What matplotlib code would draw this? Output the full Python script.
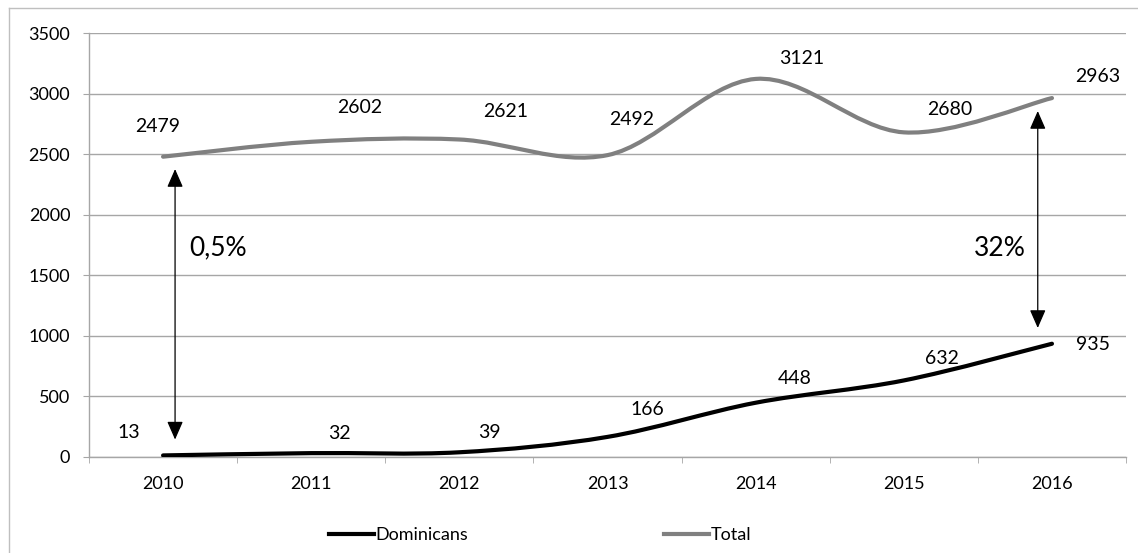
import matplotlib.pyplot as plt
from matplotlib.path import Path
from matplotlib.patches import PathPatch, FancyArrowPatch
from matplotlib.lines import Line2D

plt.rcParams['font.family'] = ['Lato', 'DejaVu Sans']

# data
years = ['2010', '2011', '2012', '2013', '2014', '2015', '2016']
dominicans = [13, 32, 39, 166, 448, 632, 935]
total = [2479, 2602, 2621, 2492, 3121, 2680, 2963]

# where the value labels sit (data coords)
total_lab_x = [-0.04, 1.325, 2.314, 3.165, 4.312, 5.31, 6.31]
total_lab_y = [2732, 2889, 2851, 2782, 3289, 2868, 3145]
dom_lab_x = [-0.229, 1.188, 2.206, 3.266, 4.264, 5.257, 6.276]
dom_lab_y = [206, 192, 200, 392, 646, 809, 925]

# share annotations: (x, y top, y bottom, text x, text y, text)
arrows = [(0.081, 2377, 144, 0.371, 1725, '0,5%'),
          (5.904, 2856, 1065, 5.648, 1725, '32%')]

GRID = '#a6a6a6'
GRAY = '#808080'


def smooth_path(xs, ys):
    # Excel-like smoothed line as cubic bezier segments
    pts = list(zip(xs, ys))
    n = len(pts)
    verts = [pts[0]]
    codes = [Path.MOVETO]
    for i in range(n - 1):
        p0 = pts[max(i - 1, 0)]
        p1 = pts[i]
        p2 = pts[i + 1]
        p3 = pts[min(i + 2, n - 1)]
        c1 = (p1[0] + (p2[0] - p0[0]) / 6, p1[1] + (p2[1] - p0[1]) / 6)
        c2 = (p2[0] - (p3[0] - p1[0]) / 6, p2[1] - (p3[1] - p1[1]) / 6)
        verts += [c1, c2, p2]
        codes += [Path.CURVE4] * 3
    return Path(verts, codes)


fig = plt.figure(figsize=(11.38, 5.53), dpi=100)
ax = fig.add_axes([0.0782, 0.1736, 0.9113, 0.7667])

x = list(range(len(years)))
ax.add_patch(PathPatch(smooth_path(x, total), fill=False, edgecolor=GRAY,
                       lw=3, capstyle='round', zorder=3))
ax.add_patch(PathPatch(smooth_path(x, dominicans), fill=False, edgecolor='black',
                       lw=3, capstyle='round', zorder=3))

for lx, ly, v in zip(total_lab_x, total_lab_y, total):
    ax.text(lx, ly, str(v), ha='center', va='center', fontsize=14)
for lx, ly, v in zip(dom_lab_x, dom_lab_y, dominicans):
    ax.text(lx, ly, str(v), ha='center', va='center', fontsize=14)

for ax_x, y_top, y_bot, tx, ty, label in arrows:
    ax.add_patch(FancyArrowPatch((ax_x, y_bot), (ax_x, y_top),
                                 arrowstyle='<|-|>,head_length=0.8,head_width=0.35',
                                 mutation_scale=14, lw=0.9, color='black',
                                 shrinkA=0, shrinkB=0, zorder=4))
    ax.text(tx, ty, label, ha='center', va='center', fontsize=19)

ax.set_xlim(-0.5, 6.5)
ax.set_ylim(0, 3500)
ax.set_yticks(range(0, 3501, 500))
ax.set_xticks(x)
ax.set_xticklabels(years)
ax.set_xticks([i - 0.5 for i in range(len(years) + 1)], minor=True)

ax.grid(axis='y', color=GRID, lw=1)
ax.set_axisbelow(True)
for s in ['top', 'right']:
    ax.spines[s].set_visible(False)
for s in ['left', 'bottom']:
    ax.spines[s].set_color(GRID)
    ax.spines[s].set_linewidth(1)

ax.tick_params(axis='y', length=4.5, color=GRID, pad=9, labelsize=13)
ax.tick_params(axis='x', which='major', length=0, pad=14, labelsize=13)
ax.tick_params(axis='x', which='minor', length=4.5, color=GRID)

handles = [Line2D([], [], color='black', lw=3),
           Line2D([], [], color=GRAY, lw=3)]
fig.legend(handles, ['Dominicans', 'Total'], loc='center',
           bbox_to_anchor=(0.4745, 0.0325), ncol=2, frameon=False,
           fontsize=13, handlelength=2.5, handletextpad=0.1, columnspacing=10.8)

# outer chart border (left and top edges visible)
fig.add_artist(Line2D([9 / 1138, 9 / 1138], [0, 1 - 8 / 553], color='#bfbfbf', lw=1))
fig.add_artist(Line2D([9 / 1138, 1], [1 - 8 / 553, 1 - 8 / 553], color='#bfbfbf', lw=1))

fig.savefig('out.png', dpi=100)
